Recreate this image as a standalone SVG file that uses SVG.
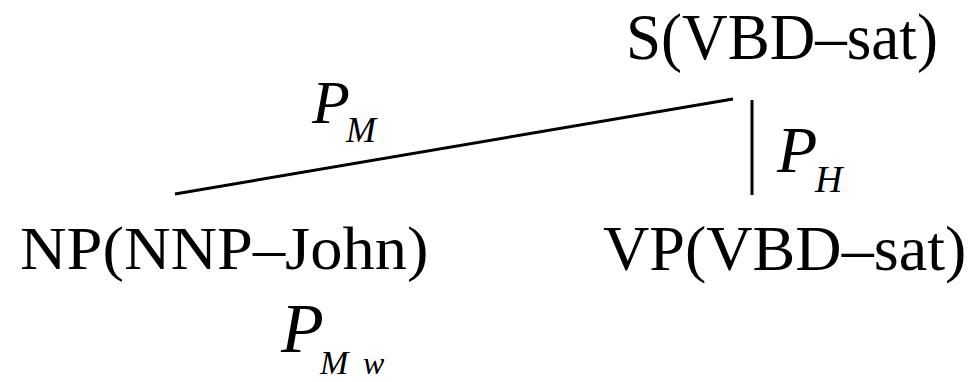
<svg xmlns="http://www.w3.org/2000/svg" width="970" height="382" viewBox="0 0 970 382">
<style>
.n{font-family:"Liberation Serif","Times New Roman",serif;fill:#000}
.p{font-family:"Liberation Serif","Times New Roman",serif;font-style:italic;fill:#000}
.e{stroke:#000;stroke-width:3;fill:none}
</style>
<rect width="970" height="382" fill="#fff"/>
<g id="edges">
<line class="e" x1="175" y1="194" x2="733" y2="99"/>
<line class="e" x1="752" y1="100" x2="752" y2="195"/>
</g>
<g id="S"><text class="n" font-size="66" transform="translate(626,59) scale(0.956,1)">S(VBD–sat)</text></g>
<g id="NP"><text class="n" font-size="62" transform="translate(20,269) scale(1.04,1)">NP(NNP–John)</text></g>
<g id="VP"><text class="n" font-size="63.5" transform="translate(603,270) scale(1.01,1)">VP(VBD–sat)</text></g>
<g id="PM"><text class="p" x="312" y="123" font-size="62">P</text><text class="p" x="346" y="142" font-size="36">M</text></g>
<g id="PH"><text class="p" x="777" y="172" font-size="66">P</text><text class="p" x="815" y="192" font-size="38">H</text></g>
<g id="PMw"><text class="p" x="281" y="352" font-size="70">P</text><text class="p" x="320" y="374" font-size="34">M</text><text class="p" x="363" y="374" font-size="32">w</text></g>
</svg>
